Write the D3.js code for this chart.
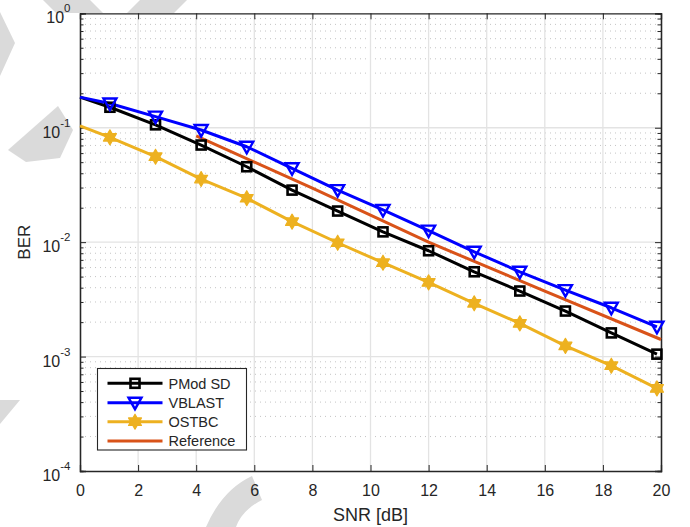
<!DOCTYPE html>
<html><head><meta charset="utf-8">
<script src="https://cdn.jsdelivr.net/npm/d3@7"></script>
<style>
html,body{margin:0;padding:0;background:#fff;}
svg{display:block;font-family:"Liberation Sans",Arial,Helvetica,sans-serif;}
</style></head>
<body><svg id="c" width="690" height="527"></svg>
<script>
// ---- data ----
const snr = [0, 1.03, 2.6, 4.17, 5.74, 7.3, 8.87, 10.43, 12.0, 13.57, 15.14, 16.71, 18.29, 19.86];
const berPMod   = [0.185, 0.151, 0.106, 0.0706, 0.0456, 0.0285, 0.0187, 0.0123, 0.00841, 0.00551, 0.00374, 0.00250, 0.00161, 0.00105];
const berVBLAST = [0.185, 0.163, 0.125, 0.0955, 0.0682, 0.0442, 0.0285, 0.0191, 0.0126, 0.00824, 0.00551, 0.00381, 0.00267, 0.00182];
const berOSTBC  = [0.104, 0.0824, 0.0558, 0.0356, 0.0242, 0.0151, 0.00988, 0.00661, 0.00445, 0.00292, 0.00195, 0.00124, 0.000832, 0.000527];
const refSNR = [4, 8, 12, 16, 20];
const berRef = [0.0848, 0.0296, 0.0100, 0.00373, 0.00141];
const seriesNames = ["PMod SD", "VBLAST", "OSTBC", "Reference"];
const xTicks = [0, 2, 4, 6, 8, 10, 12, 14, 16, 18, 20];
const yTickExps = [0, -1, -2, -3, -4];
const xLabel = "SNR [dB]";
const yLabel = "BER";

// ---- layout ----
const L = 80, R = 661, T = 13.3, B = 471;
const svg = d3.select("#c");
const x = d3.scaleLinear().domain([0, 20]).range([L, R]);
const y = d3.scaleLog().domain([1e-4, 1]).range([B, T]);
const axisCol = "#262626";

// faint background watermark shapes (outside the axes)
const wm = svg.append("g").attr("fill", "#dadada").attr("stroke", "none");
wm.append("polygon").attr("points", "0,12 15,43 0,76");
wm.append("polygon").attr("points", "43,0 90,0 103,13 56,13");
wm.append("polygon").attr("points", "140,0 187,0 174,13 127,13");
wm.append("polygon").attr("points", "58,106 73,130 60,158 26,162 8,150");
wm.append("polygon").attr("points", "0,400 20,400 0,424");
wm.append("path").attr("d", "M206,527 Q222,490 252,476 L262,500 Q242,510 236,527 Z");

// plot background
svg.append("rect").attr("x", L).attr("y", T).attr("width", R - L).attr("height", B - T).attr("fill", "#fff");

// minor grid (y)
const minorVals = [];
for (let e = -4; e < 0; e++) for (let m = 2; m <= 9; m++) minorVals.push(m * Math.pow(10, e));
svg.append("g").selectAll("line").data(minorVals).join("line")
  .attr("x1", L).attr("x2", R).attr("y1", d => y(d)).attr("y2", d => y(d))
  .attr("stroke", "#c4c4c4").attr("stroke-width", 1).attr("stroke-dasharray", "1,4");
// major grid
svg.append("g").selectAll("line").data(xTicks.slice(1, -1)).join("line")
  .attr("x1", d => x(d)).attr("x2", d => x(d)).attr("y1", T).attr("y2", B)
  .attr("stroke", "#e3e3e3").attr("stroke-width", 1.3);
svg.append("g").selectAll("line").data(yTickExps.slice(1, -1)).join("line")
  .attr("x1", L).attr("x2", R).attr("y1", d => y(Math.pow(10, d))).attr("y2", d => y(Math.pow(10, d)))
  .attr("stroke", "#e3e3e3").attr("stroke-width", 1.3);

// axes via d3 axis (inward ticks)
const gx = svg.append("g").attr("transform", `translate(0,${B})`)
  .call(d3.axisBottom(x).tickValues(xTicks).tickSize(-6).tickFormat(d3.format("d")).tickPadding(14));
const gxt = svg.append("g").attr("transform", `translate(0,${T})`)
  .call(d3.axisTop(x).tickValues(xTicks).tickSize(-6).tickFormat(""));
const gy = svg.append("g").attr("transform", `translate(${L},0)`)
  .call(d3.axisLeft(y).tickValues(yTickExps.map(e => Math.pow(10, e))).tickSize(-6).tickFormat(""));
const gyr = svg.append("g").attr("transform", `translate(${R},0)`)
  .call(d3.axisRight(y).tickValues(yTickExps.map(e => Math.pow(10, e))).tickSize(-6).tickFormat(""));
const gym = svg.append("g").attr("transform", `translate(${L},0)`)
  .call(d3.axisLeft(y).tickValues(minorVals).tickSize(-3.5).tickFormat(""));
const gymr = svg.append("g").attr("transform", `translate(${R},0)`)
  .call(d3.axisRight(y).tickValues(minorVals).tickSize(-3.5).tickFormat(""));
[gx, gxt, gy, gyr, gym, gymr].forEach(g => {
  g.selectAll(".domain").attr("stroke", axisCol).attr("stroke-width", 1.3);
  g.selectAll(".tick line").attr("stroke", axisCol).attr("stroke-width", 1);
});
gx.selectAll(".tick text").attr("fill", axisCol).attr("font-size", 16)
  .attr("font-family", "'Liberation Sans',Arial,sans-serif");

// y tick labels with superscripts
const ylab = svg.append("g").selectAll("text").data(yTickExps).join("text")
  .attr("x", 70.5).attr("y", d => y(Math.pow(10, d)) + 10)
  .attr("text-anchor", "end").attr("fill", axisCol).attr("font-size", 16);
ylab.append("tspan").text("10");
ylab.append("tspan").attr("dy", -11).attr("font-size", 11.5).text(d => String(d));

// axis labels
svg.append("text").attr("x", (L + R) / 2).attr("y", 521).attr("text-anchor", "middle")
  .attr("fill", axisCol).attr("font-size", 18).text(xLabel);
svg.append("text").attr("transform", `translate(30,${(T + B) / 2}) rotate(-90)`).attr("text-anchor", "middle")
  .attr("fill", axisCol).attr("font-size", 17).text(yLabel);

// ---- series ----
const line = d3.line().x(d => x(d[0])).y(d => y(d[1]));
const colors = ["#000000", "#0000FF", "#EDB120", "#D95319"];
const data = [berPMod, berVBLAST, berOSTBC].map(arr => snr.map((s, i) => [s, arr[i]]));
const refData = refSNR.map((s, i) => [s, berRef[i]]);

const plot = svg.append("g");
plot.append("path").datum(refData).attr("d", line).attr("fill", "none")
  .attr("stroke", colors[3]).attr("stroke-width", 3);
data.forEach((d, k) => {
  plot.append("path").datum(d).attr("d", line).attr("fill", "none")
    .attr("stroke", colors[k]).attr("stroke-width", 3).attr("stroke-linejoin", "round");
});

function hexagram(Ro) {
  const ri = Ro / Math.sqrt(3), pts = [];
  for (let i = 0; i < 12; i++) {
    const a = -Math.PI / 2 + i * Math.PI / 6, r = i % 2 === 0 ? Ro : ri;
    pts.push([r * Math.cos(a), r * Math.sin(a)]);
  }
  return "M" + pts.map(p => p.join(",")).join("L") + "Z";
}
function drawMarker(g, k, cx, cy) {
  if (k === 0) {
    g.append("rect").attr("x", cx - 4.5).attr("y", cy - 4.5).attr("width", 9).attr("height", 9)
      .attr("fill", "none").attr("stroke", colors[0]).attr("stroke-width", 2.6);
  } else if (k === 1) {
    g.append("path").attr("d", `M${cx - 6.5},${cy - 5}L${cx + 6.5},${cy - 5}L${cx},${cy + 6.5}Z`)
      .attr("fill", "none").attr("stroke", colors[1]).attr("stroke-width", 2.4).attr("stroke-linejoin", "miter");
  } else if (k === 2) {
    g.append("path").attr("d", hexagram(7.5)).attr("transform", `translate(${cx},${cy})`)
      .attr("fill", colors[2]).attr("stroke", colors[2]).attr("stroke-width", 1.2).attr("stroke-linejoin", "round");
  }
}
data.forEach((d, k) => {
  d.slice(1).forEach(p => drawMarker(plot, k, x(p[0]), y(p[1])));
});

// ---- legend ----
const lg = svg.append("g");
lg.append("rect").attr("x", 97.5).attr("y", 368.5).attr("width", 149).attr("height", 81.5)
  .attr("fill", "#fff").attr("stroke", axisCol).attr("stroke-width", 1.1);
const legY = [383.3, 402.7, 421.7, 441];
seriesNames.forEach((name, k) => {
  lg.append("line").attr("x1", 107.5).attr("x2", 162.5).attr("y1", legY[k]).attr("y2", legY[k])
    .attr("stroke", colors[k]).attr("stroke-width", 3);
  drawMarker(lg, k, 135, legY[k]);
  lg.append("text").attr("x", 168.5).attr("y", legY[k] + 5.3).attr("fill", axisCol)
    .attr("font-size", 14.5).text(name);
});
</script></body></html>
